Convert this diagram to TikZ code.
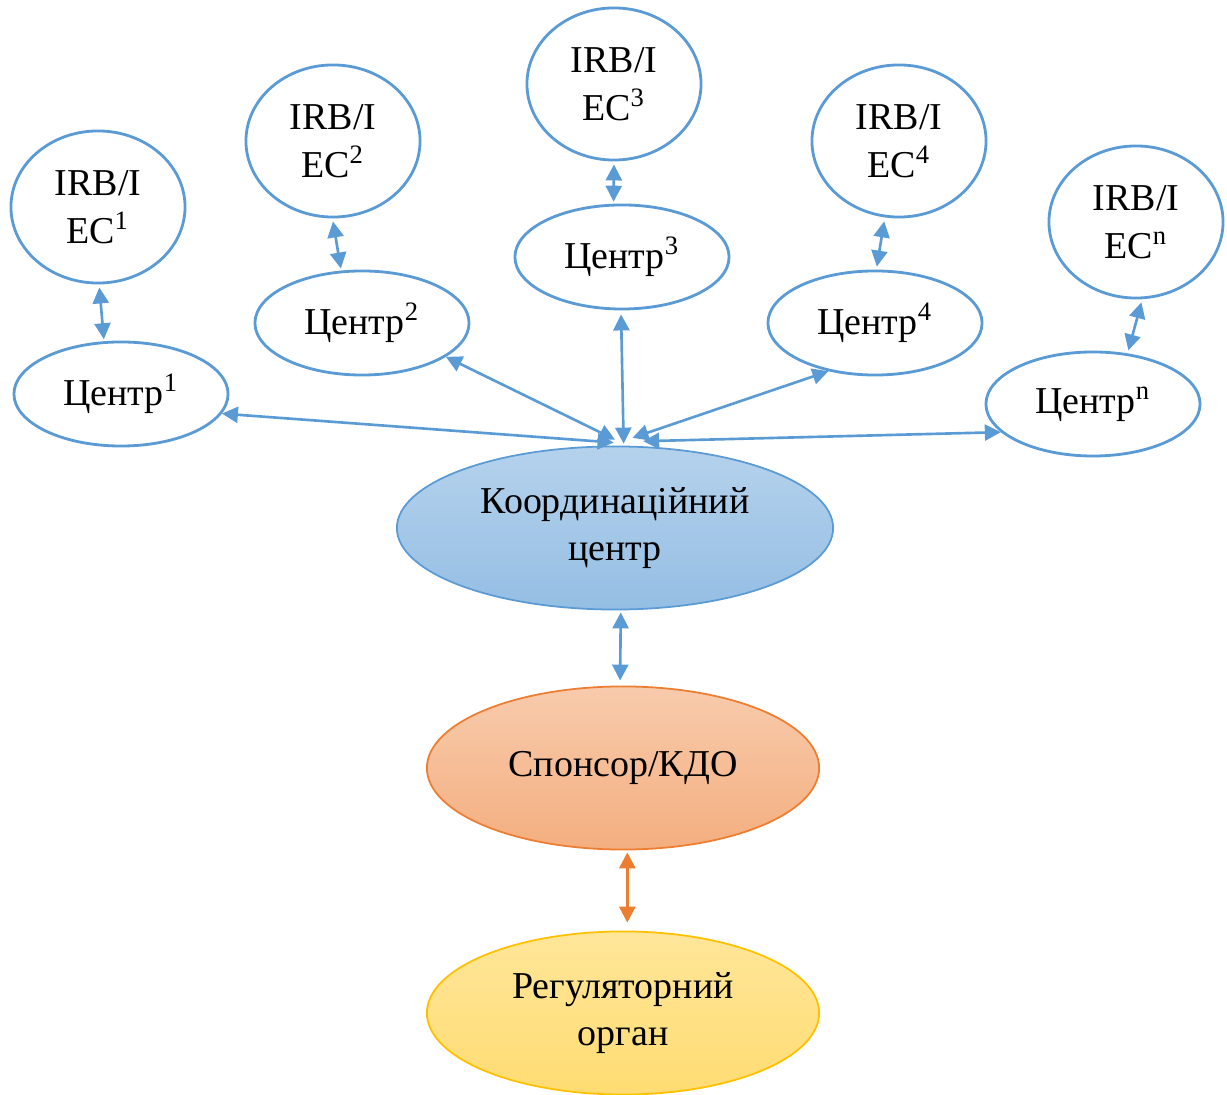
\documentclass[tikz,border=0pt]{standalone}
\usepackage{fontspec}
\setmainfont{Liberation Serif}
\usetikzlibrary{shapes.geometric,arrows.meta}
\definecolor{lineblue}{HTML}{5B9BD5}
\definecolor{lineorange}{HTML}{ED7D31}
\definecolor{lineyellow}{HTML}{FFC000}
\begin{document}
\begin{tikzpicture}[x=0.01cm,y=-0.01cm,
  font=\fontsize{10.8}{13.5}\selectfont,
  irb/.style={ellipse,draw=lineblue,line width=0.8pt,minimum width=1.74cm,minimum height=1.52cm,inner sep=0pt,align=center},
  centr/.style={ellipse,draw=lineblue,line width=0.8pt,minimum width=2.14cm,minimum height=1.04cm,inner sep=0pt},
  big/.style={ellipse,line width=0.5pt,minimum height=1.63cm,inner sep=0pt,align=center},
  arr/.style={draw=lineblue,line width=0.75pt,{Triangle[length=0.16cm,width=0.16cm]}-{Triangle[length=0.16cm,width=0.16cm]}}]
\useasboundingbox (0,0) rectangle (1227,1095);
% IRB/IEC circles
\node[irb] (irb1) at (98,207) {IRB/I\\EC\textsuperscript{1}};
\node[irb] (irb2) at (333,141) {IRB/I\\EC\textsuperscript{2}};
\node[irb] (irb3) at (614,84) {IRB/I\\EC\textsuperscript{3}};
\node[irb] (irb4) at (899,141) {IRB/I\\EC\textsuperscript{4}};
\node[irb] (irbn) at (1136,222) {IRB/I\\EC\textsuperscript{n}};
% centres
\node[centr] (c1) at (121,394) {Центр\textsuperscript{1}};
\node[centr] (c2) at (362,323) {Центр\textsuperscript{2}};
\node[centr] (c3) at (622,257) {Центр\textsuperscript{3}};
\node[centr] (c4) at (875,323) {Центр\textsuperscript{4}};
\node[centr] (cn) at (1093,404) {Центр\textsuperscript{n}};
% main chain
\node[big,draw=lineblue,minimum width=4.36cm,top color=lineblue!45!white,bottom color=lineblue!65!white] (koord) at (615,528) {Координаційний\\центр};
\node[big,draw=lineorange,minimum width=3.92cm,top color=lineorange!40!white,bottom color=lineorange!62!white] (sponsor) at (623,768) {Спонсор/КДО};
\node[big,draw=lineyellow,minimum width=3.92cm,top color=lineyellow!40!white,bottom color=lineyellow!55!white] (reg) at (623,1013) {Регуляторний\\орган};
% arrows
\draw[arr] ([yshift=-0.03cm]irb1.-89) -- ([yshift=0.02cm]c1.108);
\draw[arr] ([yshift=-0.03cm]irb2.-90) -- ([yshift=0.02cm]c2.112);
\draw[arr] ([yshift=-0.03cm]irb3.-90) -- ([yshift=0.02cm]c3.99);
\draw[arr] ([yshift=-0.04cm]irb4.-101) -- ([yshift=0.03cm]c4.88);
\draw[arr] ([yshift=-0.03cm]irbn.-86) -- ([yshift=0.03cm]cn.55);
\draw[arr] ([yshift=0.03cm]koord.91) -- (c1.-11);
\draw[arr] ([yshift=0.06cm]koord.90) -- (c2.-22);
\draw[arr] ([yshift=0.02cm]koord.84.4) -- ([yshift=-0.04cm]c3.-91);
\draw[arr] ([yshift=0.08cm]koord.78.3) -- (c4.-134);
\draw[arr] ([yshift=0.05cm]koord.71) -- (cn.-163);
\draw[arr] ([yshift=-0.02cm]koord.-86.5) -- ([yshift=0.05cm]sponsor.92);
\draw[arr,draw=lineorange] ([yshift=-0.02cm]sponsor.-87) -- ([yshift=0.08cm]reg.87);
\end{tikzpicture}
\end{document}
